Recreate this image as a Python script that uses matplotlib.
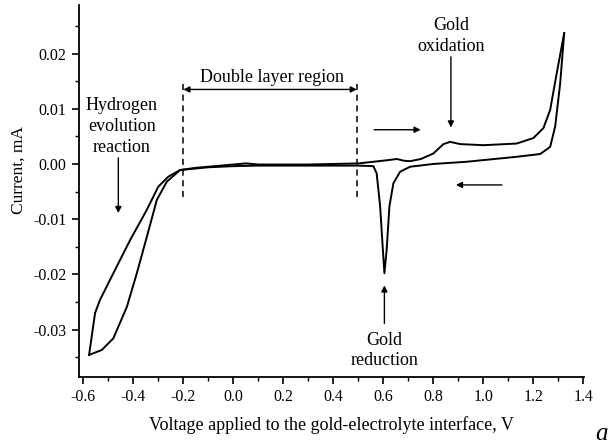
import numpy as np
import matplotlib
matplotlib.use("Agg")
import matplotlib.pyplot as plt
from matplotlib.ticker import MultipleLocator, FormatStrFormatter

plt.rcParams['font.family'] = ['Liberation Serif', 'DejaVu Serif']
plt.rcParams['axes.unicode_minus'] = False

# anodic sweep (from -0.58 V up to 1.32 V)
v_fwd = [-0.577, -0.526, -0.48, -0.426, -0.386, -0.346, -0.306, -0.266, -0.213,
         -0.15, -0.1, -0.05, 0.0, 0.05, 0.1, 0.2, 0.3, 0.4, 0.5, 0.56, 0.62,
         0.654, 0.68, 0.707, 0.75, 0.8, 0.84, 0.867, 0.907, 1.0, 1.133, 1.2,
         1.24, 1.267, 1.293, 1.323]
i_fwd = [-0.0346, -0.0337, -0.0316, -0.0259, -0.0198, -0.0132, -0.0065, -0.0032,
         -0.0011, -0.0007, -0.0005, -0.0003, -0.0001, 0.0001, -0.0001, -0.0001,
         -0.0001, 0.0, 0.0001, 0.0004, 0.0007, 0.0009, 0.0006, 0.0005, 0.0009,
         0.0019, 0.0036, 0.0040, 0.0036, 0.0034, 0.0037, 0.0047, 0.0065, 0.0098,
         0.0164, 0.0237]

# cathodic sweep (back from 1.32 V to -0.58 V)
v_rev = [1.323, 1.307, 1.287, 1.267, 1.227, 1.133, 0.933, 0.8, 0.707, 0.667,
         0.64, 0.624, 0.613, 0.604, 0.598, 0.587, 0.573, 0.56, 0.5, 0.3, 0.1,
         0.0, -0.1, -0.213, -0.26, -0.30, -0.346, -0.413, -0.48, -0.533,
         -0.553, -0.577]
i_rev = [0.0237, 0.0146, 0.0068, 0.0031, 0.0018, 0.0013, 0.0004, 0.0, -0.0005,
         -0.0014, -0.0035, -0.0077, -0.0156, -0.0198, -0.0156, -0.0077,
         -0.0017, -0.0004, -0.0003, -0.0003, -0.0003, -0.0004, -0.0006,
         -0.0011, -0.0023, -0.0041, -0.0083, -0.0138, -0.0198, -0.0246,
         -0.0270, -0.0346]

fig = plt.figure(figsize=(6.13, 4.47), dpi=100)
ax = fig.add_axes([0.129, 0.1566, 0.824, 0.8322])

ax.plot(v_fwd, i_fwd, color='black', lw=1.4)
ax.plot(v_rev, i_rev, color='black', lw=1.4)

ax.set_xlim(-0.617, 1.403)
ax.set_ylim(-0.0386, 0.0288)
ax.spines['top'].set_visible(False)
ax.spines['right'].set_visible(False)
for s in ['left', 'bottom']:
    ax.spines[s].set_linewidth(1.3)

ax.xaxis.set_major_locator(MultipleLocator(0.2))
ax.xaxis.set_minor_locator(MultipleLocator(0.1))
ax.yaxis.set_major_locator(MultipleLocator(0.01))
ax.yaxis.set_minor_locator(MultipleLocator(0.005))
ax.xaxis.set_major_formatter(FormatStrFormatter('%.1f'))
ax.yaxis.set_major_formatter(FormatStrFormatter('%.2f'))
ax.tick_params(which='major', direction='out', length=5, width=1.2, labelsize=11.5, pad=4)
ax.tick_params(which='minor', direction='out', length=3, width=1.0)

ax.set_xlabel('Voltage applied to the gold-electrolyte interface, V', fontsize=13, labelpad=8)
ax.set_ylabel('Current, mA', fontsize=12.5)
ax.yaxis.set_label_coords(-0.104, 0.556)

# double layer region
ax.plot([-0.2, -0.2], [-0.006, 0.0147], ls=(0, (4, 3)), color='black', lw=1.1)
ax.plot([0.494, 0.494], [-0.006, 0.0147], ls=(0, (4, 3)), color='black', lw=1.1)
ax.annotate('', xy=(-0.2, 0.0135), xytext=(0.494, 0.0135),
            arrowprops=dict(arrowstyle='<|-|>', color='black', lw=1.0,
                            shrinkA=0, shrinkB=0, mutation_scale=9))
ax.text(0.153, 0.0157, 'Double layer region', ha='center', va='center', fontsize=13)

# hydrogen evolution
ax.text(-0.446, 0.0068, 'Hydrogen\nevolution\nreaction', ha='center', va='center',
        fontsize=13, linespacing=1.3)
ax.annotate('', xy=(-0.46, -0.0089), xytext=(-0.46, 0.0011),
            arrowprops=dict(arrowstyle='-|>', color='black', lw=1.0,
                            shrinkA=0, shrinkB=0, mutation_scale=9))

# gold oxidation
ax.text(0.87, 0.0232, 'Gold\noxidation', ha='center', va='center', fontsize=13,
        linespacing=1.3)
ax.annotate('', xy=(0.87, 0.0066), xytext=(0.87, 0.0194),
            arrowprops=dict(arrowstyle='-|>', color='black', lw=1.0,
                            shrinkA=0, shrinkB=0, mutation_scale=9))

# gold reduction
ax.text(0.604, -0.0338, 'Gold\nreduction', ha='center', va='center', fontsize=13,
        linespacing=1.3)
ax.annotate('', xy=(0.604, -0.022), xytext=(0.604, -0.0289),
            arrowprops=dict(arrowstyle='-|>', color='black', lw=1.0,
                            shrinkA=0, shrinkB=0, mutation_scale=9))

# sweep direction arrows
ax.annotate('', xy=(0.749, 0.0062), xytext=(0.563, 0.0062),
            arrowprops=dict(arrowstyle='-|>', color='black', lw=1.0,
                            shrinkA=0, shrinkB=0, mutation_scale=9))
ax.annotate('', xy=(0.89, -0.0038), xytext=(1.074, -0.0038),
            arrowprops=dict(arrowstyle='-|>', color='black', lw=1.0,
                            shrinkA=0, shrinkB=0, mutation_scale=9))

fig.text(601 / 613, 1.5 / 447, 'a', ha='center', va='bottom', fontsize=18,
         style='italic')

fig.savefig('out.png', dpi=100)
